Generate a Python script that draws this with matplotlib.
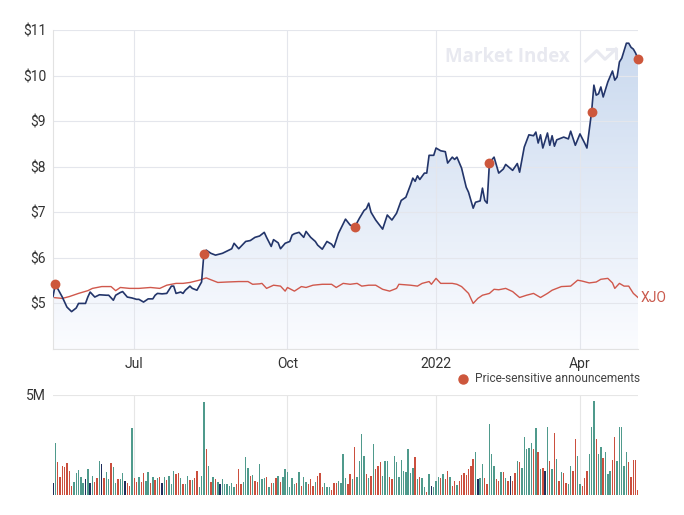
import numpy as np
import matplotlib
matplotlib.use("Agg")
import matplotlib.pyplot as plt
from matplotlib.colors import LinearSegmentedColormap
from matplotlib.patches import PathPatch
from matplotlib.lines import Line2D

plt.rcParams['font.family'] = ['Roboto', 'DejaVu Sans']

# x is the trading day index, 0 = first session (about 11 May 2021)
price_day = [0, 1, 4, 6, 8, 10, 11, 14, 15, 16, 18, 20, 23, 24, 26, 27, 29, 30, 32, 34,
             36, 37, 39, 41, 43, 44, 45, 47, 49, 51, 52, 53, 55, 56, 57, 59, 60, 62, 64, 65,
             66, 68, 70, 73, 75, 77, 78, 80, 83, 85, 87, 89, 91, 92, 94, 95, 97, 98, 100, 102,
             103, 104, 106, 108, 109, 111, 113, 114, 116, 118, 120, 121, 123, 126, 128, 130, 132, 134, 135, 136,
             137, 139, 142, 144, 146, 148, 150, 152, 154, 155, 156, 157, 158, 160, 161, 162, 164, 165, 167, 169,
             170, 172, 173, 174, 176, 178, 179, 181, 182, 184, 185, 186, 187, 188, 190, 192, 194, 195, 198, 200,
             201, 203, 205, 207, 208, 209, 210, 211, 213, 214, 215, 216, 217, 220, 222, 223, 225, 227, 229, 230,
             232, 233, 234, 235, 236, 237, 239, 241, 242, 243, 244, 245, 247, 248, 249, 250, 251, 252]
price = [5.15, 5.42, 5.14, 4.92, 4.82, 4.90, 5.00, 5.00, 5.14, 5.25, 5.14, 5.19, 5.18, 5.18, 5.07, 5.18, 5.24, 5.26, 5.14, 5.12,
         5.09, 5.09, 5.03, 5.10, 5.10, 5.18, 5.22, 5.21, 5.22, 5.38, 5.38, 5.22, 5.25, 5.22, 5.29, 5.38, 5.33, 5.29, 5.47, 6.09,
         6.17, 6.10, 6.06, 6.10, 6.15, 6.20, 6.32, 6.20, 6.36, 6.38, 6.45, 6.48, 6.56, 6.45, 6.25, 6.40, 6.33, 6.20, 6.32, 6.36,
         6.50, 6.53, 6.56, 6.45, 6.58, 6.45, 6.36, 6.28, 6.19, 6.36, 6.30, 6.23, 6.54, 6.85, 6.72, 6.68, 6.87, 7.04, 7.08, 7.20,
         7.00, 6.83, 6.63, 6.94, 6.83, 6.98, 7.26, 7.33, 7.60, 7.75, 7.68, 7.80, 7.72, 7.86, 7.86, 8.25, 8.25, 8.41, 8.35, 8.33,
         8.08, 8.21, 8.16, 8.21, 7.97, 7.55, 7.44, 7.09, 7.22, 7.25, 7.53, 7.26, 7.20, 8.09, 8.21, 7.86, 7.95, 8.05, 7.92, 8.07,
         7.88, 8.43, 8.70, 8.68, 8.76, 8.52, 8.70, 8.41, 8.74, 8.47, 8.68, 8.45, 8.59, 8.65, 8.61, 8.78, 8.47, 8.72, 8.52, 8.41,
         9.20, 9.79, 9.57, 9.60, 9.75, 9.53, 9.86, 10.10, 9.90, 9.97, 10.30, 10.38, 10.71, 10.71, 10.62, 10.58, 10.49, 10.36]

xjo_day = [0, 4, 7, 11, 15, 17, 21, 25, 27, 29, 33, 37, 42, 46, 49, 53, 56, 59, 63, 66,
           68, 71, 75, 80, 84, 86, 89, 90, 92, 95, 98, 100, 101, 104, 107, 109, 112, 116, 120, 122,
           125, 128, 131, 133, 136, 139, 142, 145, 148, 149, 154, 157, 159, 162, 163, 165, 167, 169, 172, 174,
           176, 179, 181, 183, 185, 188, 190, 192, 195, 198, 201, 204, 207, 210, 213, 215, 219, 223, 226, 228,
           231, 234, 236, 239, 241, 242, 244, 246, 248, 250, 252]
xjo = [5.13, 5.11, 5.15, 5.22, 5.28, 5.33, 5.37, 5.37, 5.28, 5.35, 5.33, 5.33, 5.35, 5.33, 5.40, 5.44, 5.44, 5.46, 5.51, 5.56,
       5.52, 5.46, 5.47, 5.48, 5.48, 5.42, 5.43, 5.44, 5.33, 5.40, 5.38, 5.27, 5.35, 5.27, 5.37, 5.35, 5.40, 5.42, 5.42, 5.35,
       5.44, 5.42, 5.44, 5.38, 5.40, 5.40, 5.31, 5.27, 5.33, 5.42, 5.40, 5.38, 5.44, 5.48, 5.42, 5.55, 5.44, 5.44, 5.44, 5.42,
       5.37, 5.22, 5.00, 5.11, 5.18, 5.22, 5.31, 5.30, 5.33, 5.26, 5.13, 5.18, 5.22, 5.13, 5.22, 5.29, 5.37, 5.38, 5.51, 5.49,
       5.45, 5.47, 5.53, 5.55, 5.45, 5.33, 5.44, 5.38, 5.38, 5.22, 5.13]

ann_day = [1, 65, 130, 188, 232, 252]
ann_price = [5.42, 6.09, 6.68, 8.09, 9.20, 10.36]

# daily volume in millions, g = up day, r = down day, n = unchanged
vol = [0.58, 2.58, 1.67, 0.92, 1.47, 1.38, 1.58, 1.22, 0.47, 0.67, 1.08, 1.25, 0.92, 0.58, 0.78, 1.28, 0.58, 0.97, 0.67, 0.83,
       1.70, 1.53, 0.83, 1.13, 0.78, 1.58, 1.38, 0.62, 0.78, 0.78, 1.08, 0.72, 0.58, 0.47, 3.33, 0.83, 0.67, 0.88, 0.63, 1.08,
       0.72, 1.13, 0.58, 0.88, 0.75, 0.83, 0.88, 0.62, 0.92, 0.75, 0.97, 0.53, 1.20, 1.03, 1.08, 0.83, 0.53, 0.53, 0.97, 0.75,
       0.75, 0.83, 1.20, 0.38, 0.95, 4.67, 2.28, 1.47, 0.67, 0.88, 0.80, 0.67, 0.53, 0.78, 0.53, 0.53, 0.47, 0.58, 0.42, 0.53,
       1.28, 0.53, 0.67, 1.88, 1.33,
       0.97, 1.00, 0.72, 0.63, 1.53, 0.78, 0.83, 0.92, 0.42, 0.58, 0.62, 0.83, 0.97, 0.67, 0.92, 1.28, 1.13, 0.38, 0.83, 0.55,
       0.58, 1.17, 0.47, 0.88, 0.67, 0.53, 0.78, 0.47, 0.67, 0.97, 1.08, 0.38, 0.62, 0.38, 0.38, 0.25, 0.62, 0.58, 0.72, 0.62,
       2.05, 0.83, 0.53, 1.03, 0.80, 2.38, 0.88, 1.70, 3.05, 1.97, 1.03, 0.83, 0.97, 2.53, 1.28, 1.45, 1.63, 0.97, 1.70, 1.70,
       0.92, 0.78, 1.97, 1.67, 0.92, 1.73, 1.20, 1.13, 2.28, 1.08, 1.33, 1.88, 0.78, 0.92, 0.83, 0.42, 0.13, 1.03, 0.47, 0.38,
       0.72, 0.92, 0.83, 1.03, 0.78, 1.20, 0.92, 0.47, 0.72, 0.50, 0.72,
       1.00, 1.12, 1.00, 1.28, 1.47, 1.80, 2.13, 0.78, 0.87, 1.53, 0.83, 0.53, 3.53, 2.03, 1.47, 0.78, 0.72, 1.13, 1.13, 0.83,
       0.72, 0.97, 0.72, 1.08, 1.72, 1.63, 1.37, 2.92, 2.28, 2.33, 2.58, 2.28, 3.33, 2.17, 1.28, 1.37, 1.22, 3.42, 1.72, 1.28,
       3.08, 1.78, 0.70, 1.13, 1.08, 0.58, 0.55, 1.47, 1.20, 2.78, 1.97, 0.55, 0.47, 0.83, 1.22, 2.03, 3.38, 4.72, 2.78, 2.03,
       2.38, 1.83, 2.13, 1.05, 1.20, 1.75, 2.92, 1.70, 3.42, 3.38, 1.47, 2.13, 1.67, 0.92, 1.75, 1.75, 0.25]
vol_col = ("ngrrrrrrrg" "ggggngngrr" "gnrggrggrg" "gnrrgrrgrr" "ggrgrgrngr"
           "gggrrgrggr" "grrgggrgrg" "rgnggggggr" "rrggg"
           "rgrrgggrgr" "grgrgggggg" "rgrggrrrgr" "rrgggrrrgg" "ggrrgrgggg"
           "rgrgrrrggg" "rrgggggggg" "grgrggrgng" "ggrgrrgrrg" "r"
           "rrrrrrgngg" "rrgggrrgrg" "rnrrgrgggg" "grgrgrngrg" "rgrgrrggrr"
           "ggrrrgggrg" "grgggrrggg" "ggrrrrr")
tick_day = [35, 101, 165, 227]
tick_lab = ['Jul', 'Oct', '2022', 'Apr']

colmap = {'g': '#4f9a8c', 'r': '#cb4f3e', 'n': '#1f2d5c'}
days = np.arange(len(vol))
W, H = 684, 515

fig = plt.figure(figsize=(W / 100, H / 100), dpi=100)
ax = fig.add_axes([53 / W, 1 - 349 / H, 585 / W, 319 / H])
axv = fig.add_axes([53 / W, 1 - 495 / H, 585 / W, 100 / H])
xl = (0, len(vol) - 1)

# gradient area under the price line
poly = ax.fill_between(price_day, price, 4, color='none', lw=0)
patch = PathPatch(poly.get_paths()[0], transform=ax.transData, facecolor='none', edgecolor='none')
ax.add_patch(patch)
cmap = LinearSegmentedColormap.from_list('fade', ['#fbfcff', '#c8d8ee'])
grad = np.linspace(1, 0, 256).reshape(-1, 1)
im = ax.imshow(grad, cmap=cmap, extent=[xl[0], xl[1], 4, 11], aspect='auto', origin='upper', zorder=1)
im.set_clip_path(patch)

ax.plot(xjo_day, xjo, color='#d0584c', lw=1.0, zorder=2)
ax.plot(price_day, price, color='#23356a', lw=1.2, zorder=3)
ax.scatter(ann_day, ann_price, s=50, color='#cd573c', zorder=4, clip_on=False, linewidths=0)
ax.annotate('XJO', xy=(xjo_day[-1], xjo[-1]), xytext=(2, 0), textcoords='offset points',
            va='center', ha='left', fontsize=10, color='#c9594c', annotation_clip=False)

ax.set_xlim(*xl)
ax.set_ylim(4, 11)
ax.set_yticks(range(4, 12))
ax.set_yticklabels([''] + ['$' + str(v) for v in range(5, 12)])
ax.set_xticks(tick_day)
ax.set_xticklabels(tick_lab)
ax.tick_params(length=0, labelsize=10, colors='#333333')
ax.tick_params(axis='y', pad=5)
ax.tick_params(axis='x', pad=6)
ax.set_axisbelow('line')
ax.grid(True, color='#e4e6ec', lw=0.8)
for s in ['top', 'right']:
    ax.spines[s].set_visible(False)
for s in ['left', 'bottom']:
    ax.spines[s].set_color('#e2e2e2')

# watermark
ax.text(0.777, 0.915, 'Market Index', transform=ax.transAxes, ha='center', va='center',
        fontsize=13.5, fontweight='bold', color='#e8e9f0', family=['Open Sans', 'DejaVu Sans'], zorder=0.5)
zx = [585.7, 596.7, 605, 616]
zy = [61, 50.7, 59.3, 49]
fig.add_artist(Line2D([v / W for v in zx], [1 - v / H for v in zy], color='#e8e9f0', lw=2.2))
fig.add_artist(Line2D([607 / W, 616 / W, 616 / W], [1 - 49 / H, 1 - 49 / H, 1 - 58 / H], color='#e8e9f0', lw=2.2))

# legend
fig.add_artist(Line2D([463 / W], [1 - 379 / H], marker='o', ms=6.5, color='#cd573c', lw=0))
fig.text(640 / W, 1 - 379 / H, 'Price-sensitive announcements', ha='right', va='center',
         fontsize=8.6, color='#444444')

# volume
axv.bar(days, vol, width=0.6, color=[colmap[c] for c in vol_col], zorder=2)
axv.set_xlim(*xl)
axv.set_ylim(0, 5)
axv.set_yticks([5])
axv.set_yticklabels(['5M'])
axv.set_xticks(tick_day)
axv.set_xticklabels([])
axv.tick_params(length=0, labelsize=10, colors='#333333', pad=5)
axv.grid(True, color='#e6e6e6', lw=0.8)
axv.set_axisbelow(True)
for s in axv.spines.values():
    s.set_visible(False)

fig.savefig('out.png', dpi=100)
